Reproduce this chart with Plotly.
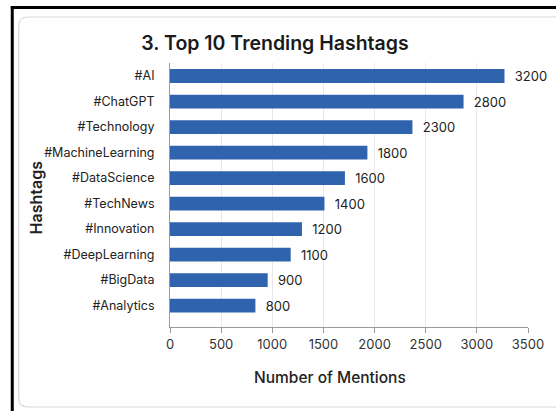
import plotly.graph_objects as go

# ---- data ----
hashtags = ["#AI", "#ChatGPT", "#Technology", "#MachineLearning", "#DataScience",
            "#TechNews", "#Innovation", "#DeepLearning", "#BigData", "#Analytics"]
# bar lengths as drawn in the picture
bar_lengths = [3270, 2870, 2370, 1930, 1710, 1510, 1290, 1180, 955, 835]
# values printed next to the bars
mention_labels = ["3200", "2800", "2300", "1800", "1600", "1400", "1200", "1100", "900", "800"]
x_ticks = [0, 500, 1000, 1500, 2000, 2500, 3000, 3500]

W, H = 556, 411
L, R, T, B = 170, 24, 63, 84
PW, PH = W - L - R, H - T - B


def px(x):
    return (x - L) / PW


def py(y):
    return 1 - (y - T) / PH


FONT = "Inter"
BLUE = "#2f63ae"

fig = go.Figure()
fig.add_trace(go.Bar(
    x=bar_lengths, y=hashtags, orientation="h",
    marker=dict(color=BLUE, line=dict(width=0)),
    width=0.54,
    text=mention_labels, texttemplate="  %{text}", textposition="outside",
    constraintext="none",
    textfont=dict(family=FONT, size=13, color="#222222"),
    cliponaxis=False, hoverinfo="skip",
))

r = 9


def card_path():
    X0, Y0, X1, Y1 = 17, 17, 640, 407
    return (f"M {px(X0 + r)},{py(Y0)} L {px(X1 - r)},{py(Y0)} "
            f"Q {px(X1)},{py(Y0)} {px(X1)},{py(Y0 + r)} L {px(X1)},{py(Y1 - r)} "
            f"Q {px(X1)},{py(Y1)} {px(X1 - r)},{py(Y1)} L {px(X0 + r)},{py(Y1)} "
            f"Q {px(X0)},{py(Y1)} {px(X0)},{py(Y1 - r)} L {px(X0)},{py(Y0 + r)} "
            f"Q {px(X0)},{py(Y0)} {px(X0 + r)},{py(Y0)} Z")


shapes = [
    dict(type="path", xref="paper", yref="paper", path=card_path(),
         line=dict(color="#d9d9d9", width=1.2), fillcolor="white", layer="below"),
    dict(type="line", xref="paper", yref="paper", x0=px(9), x1=px(600), y0=py(7.5), y1=py(7.5),
         line=dict(color="black", width=3)),
    dict(type="line", xref="paper", yref="paper", x0=px(10.5), x1=px(10.5), y0=py(6), y1=py(415),
         line=dict(color="black", width=3)),
]

annotations = [
    dict(text="Number of Mentions", xref="paper", yref="paper", x=px(331.5), y=py(377),
         xanchor="center", yanchor="middle", showarrow=False,
         font=dict(family=FONT, size=15.5, color="#222222", weight=500)),
    dict(text="Hashtags", xref="paper", yref="paper", x=px(35), y=py(197),
         xanchor="center", yanchor="middle", showarrow=False, textangle=-90,
         font=dict(family=FONT, size=16, color="#222222", weight=600)),
]

fig.update_layout(
    width=W, height=H,
    margin=dict(l=L, r=R, t=T, b=B),
    paper_bgcolor="white", plot_bgcolor="rgba(0,0,0,0)",
    showlegend=False,
    title=dict(text="3. Top 10 Trending Hashtags", x=275 / W, xref="container", xanchor="center",
               y=1 - 43 / H, yref="container", yanchor="middle",
               font=dict(family=FONT, size=19.5, color="#1a1a1a", weight=600)),
    shapes=shapes, annotations=annotations,
    xaxis=dict(range=[0, 3500], tickvals=x_ticks, showgrid=True, gridcolor="#e8e8e8", gridwidth=1,
               zeroline=False, showline=True, linecolor="#9a9a9a", linewidth=1,
               ticks="outside", ticklen=5, tickcolor="#9a9a9a",
               tickfont=dict(family=FONT, size=13, color="#333333")),
    yaxis=dict(categoryorder="array", categoryarray=hashtags, range=[9.84, -0.51],
               showline=True, linecolor="#9a9a9a", linewidth=1, showgrid=False,
               ticks="", ticklabelstandoff=12,
               tickfont=dict(family=FONT, size=12.5, color="#222222")),
    font=dict(family=FONT),
)

fig.write_html("out.html", config={"displayModeBar": False},
               post_script="document.documentElement.style.overflow='hidden';"
                           "document.body.style.margin='0';document.body.style.overflow='hidden';")
